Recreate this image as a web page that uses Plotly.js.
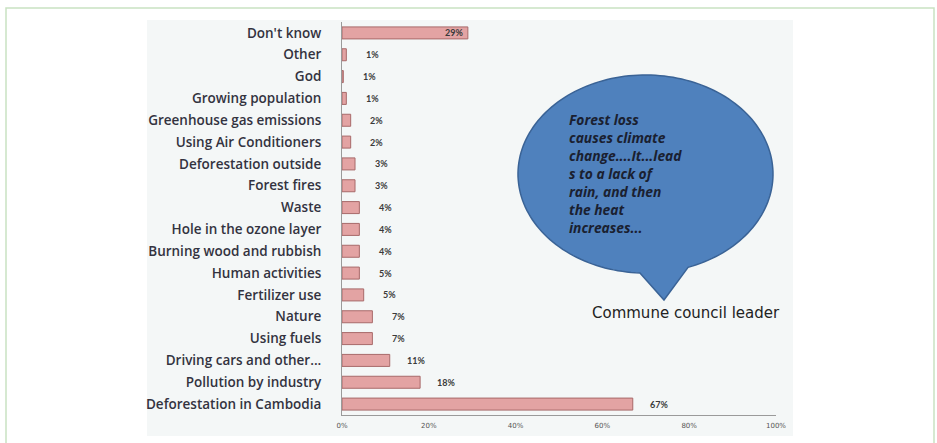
<!DOCTYPE html>
<html>
<head>
<meta charset="utf-8">
<script src="https://cdn.plot.ly/plotly-3.0.1.min.js"></script>
<style>
html,body{margin:0;padding:0;background:#fff;}
#chart{width:937px;height:443px;}
</style>
</head>
<body>
<div id="chart"></div>
<script>
// ---- data (top to bottom) ----
var categories = [
  "Don't know", "Other", "God", "Growing population", "Greenhouse gas emissions",
  "Using Air Conditioners", "Deforestation outside", "Forest fires", "Waste",
  "Hole in the ozone layer", "Burning wood and rubbish", "Human activities",
  "Fertilizer use", "Nature", "Using fuels", "Driving cars and other...",
  "Pollution by industry", "Deforestation in Cambodia"
];
var values = [29, 1, 0.3, 1, 2, 2, 3, 3, 4, 4, 4, 4, 5, 7, 7, 11, 18, 67];
var valueLabels = ["29%", "1%", "1%", "1%", "2%", "2%", "3%", "3%", "4%", "4%", "4%", "5%", "5%", "7%", "7%", "11%", "18%", "67%"];
var tickValues = [0, 20, 40, 60, 80, 100];
var tickLabels = ["0%", "20%", "40%", "60%", "80%", "100%"];
var quoteText = "Forest loss<br>causes climate<br>change....It...lead<br>s to a lack of<br>rain, and then<br>the heat<br>increases...";
var quoteSpeaker = "Commune council leader";

// ---- layout geometry (pixels of the 937x443 page) ----
var W = 937, H = 443;
var L = 342, R = 161, T = 22, B = 28;
var pw = W - L - R, ph = H - T - B;
function px(x){ return (x - L) / pw; }
function py(y){ return (H - B - y) / ph; }

// speech bubble path (ellipse + tail)
var cx = 645.5, cy = 174, rx = 127.5, ry = 99;
var tStart = 92.5, tEnd = 72 + 360;
var path = "";
for (var t = tStart; t <= tEnd + 0.001; t += 2) {
  var a = t * Math.PI / 180;
  var X = cx + rx * Math.cos(a), Y = cy + ry * Math.sin(a);
  path += (path ? " L" : "M") + px(X).toFixed(4) + "," + py(Y).toFixed(4);
}
path += " L" + px(664).toFixed(4) + "," + py(300).toFixed(4) + " Z";

var trace = {
  type: 'bar',
  orientation: 'h',
  y: categories,
  x: values,
  width: 0.55,
  marker: {color: '#e3a3a3', line: {color: '#a86a6a', width: 1}},
  hoverinfo: 'x+y'
};

var annotations = categories.map(function(c, i){
  var inside = (i === 0);
  return {
    x: values[i], y: c, xref: 'x', yref: 'y',
    text: valueLabels[i], showarrow: false,
    xanchor: 'center', xshift: inside ? -14 : 26,
    font: {family: 'Lato, sans-serif', size: 9, color: '#3a3a3a', weight: 700}
  };
});
annotations.push({
  xref: 'paper', yref: 'paper', x: px(567), y: py(108),
  xanchor: 'left', yanchor: 'top', align: 'left', showarrow: false,
  text: '<b><i>' + quoteText + '</i></b>',
  font: {family: 'Open Sans, sans-serif', size: 13.8, color: '#1a2030'}
});
annotations.push({
  xref: 'paper', yref: 'paper', x: px(686), y: py(313),
  xanchor: 'center', yanchor: 'middle', showarrow: false,
  text: quoteSpeaker,
  font: {family: 'DejaVu Sans, sans-serif', size: 15, color: '#222'}
});

var layout = {
  width: W, height: H,
  margin: {l: L, r: R, t: T, b: B, pad: 0},
  paper_bgcolor: '#ffffff',
  plot_bgcolor: 'rgba(0,0,0,0)',
  showlegend: false,
  xaxis: {
    range: [0, 100], tickvals: tickValues, ticktext: tickLabels,
    showgrid: false, zeroline: false, showline: true, linecolor: '#9a9a9a', linewidth: 1,
    ticks: '', tickfont: {family: 'DejaVu Sans, sans-serif', size: 7, color: '#555'},
    ticklabelstandoff: 4, fixedrange: true
  },
  yaxis: {
    type: 'category', autorange: 'reversed',
    showgrid: false, zeroline: false, showline: true, linecolor: '#9a9a9a', linewidth: 1,
    ticks: '', ticklabelstandoff: 17,
    tickfont: {family: 'Open Sans, sans-serif', size: 13.5, color: '#33333f', weight: 600},
    fixedrange: true
  },
  shapes: [
    {type: 'rect', xref: 'paper', yref: 'paper', layer: 'below',
     x0: px(6), x1: px(934), y0: py(447), y1: py(8),
     line: {color: '#c9e2c2', width: 1.5}, fillcolor: 'rgba(0,0,0,0)'},
    {type: 'rect', xref: 'paper', yref: 'paper', layer: 'below',
     x0: px(147), x1: px(793), y0: py(436), y1: py(20),
     line: {width: 0}, fillcolor: '#f4f7f7'},
    {type: 'path', xref: 'paper', yref: 'paper', layer: 'above',
     path: path, fillcolor: '#4f81bd', line: {color: '#3a6396', width: 1.5}}
  ],
  annotations: annotations
};

Plotly.newPlot('chart', [trace], layout, {displayModeBar: false, staticPlot: true});
</script>
</body>
</html>
